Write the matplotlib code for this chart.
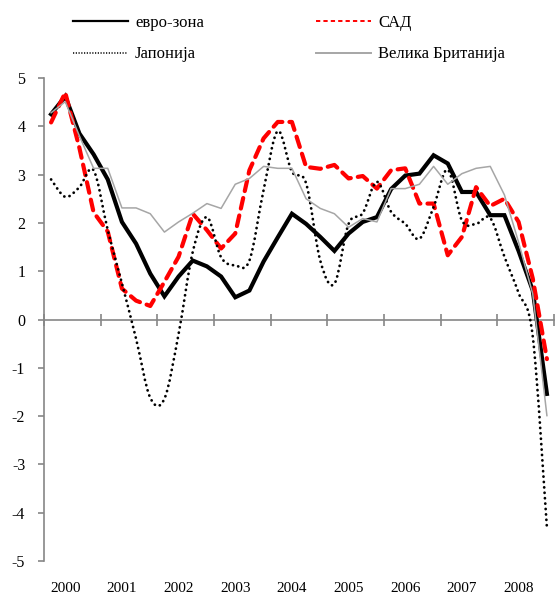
import numpy as np
import matplotlib
matplotlib.use("Agg")
import matplotlib.pyplot as plt
from matplotlib.path import Path
from matplotlib.patches import PathPatch
from matplotlib.lines import Line2D
import matplotlib.transforms as mtransforms

plt.rcParams['font.family'] = ['Liberation Serif', 'DejaVu Serif']
plt.rcParams['axes.unicode_minus'] = False

# quarterly growth, 2000 Q1 .. 2008 Q4
years = ['2000', '2001', '2002', '2003', '2004', '2005', '2006', '2007', '2008']

euro = [4.25, 4.62, 3.85, 3.42,
        2.90, 2.02, 1.57, 0.95,
        0.48, 0.89, 1.22, 1.10,
        0.89, 0.46, 0.60, 1.20,
        1.70, 2.19, 1.98, 1.71,
        1.42, 1.78, 2.02, 2.12,
        2.70, 2.98, 3.02, 3.40,
        3.23, 2.64, 2.64, 2.16,
        2.16, 1.42, 0.60, -1.54]

usa = [4.08, 4.70, 3.55, 2.22,
       1.82, 0.64, 0.39, 0.28,
       0.78, 1.30, 2.19, 1.85,
       1.47, 1.78, 3.09, 3.75,
       4.09, 4.09, 3.16, 3.12,
       3.20, 2.92, 2.97, 2.71,
       3.09, 3.13, 2.40, 2.40,
       1.33, 1.71, 2.74, 2.35,
       2.50, 2.02, 0.85, -0.82]

japan = [2.90, 2.54, 2.74, 3.09,
         1.85, 0.75, -0.40, -1.62,
         -1.64, -0.30, 1.40, 2.12,
         1.29, 1.12, 1.22, 2.68,
         3.90, 3.06, 2.82, 1.22,
         0.74, 1.98, 2.20, 2.85,
         2.23, 1.98, 1.67, 2.33,
         3.10, 2.05, 1.98, 2.10,
         1.30, 0.55, -0.35, -4.31]

uk = [4.28, 4.51, 3.80, 3.13,
      3.13, 2.31, 2.31, 2.19,
      1.81, 2.02, 2.20, 2.40,
      2.30, 2.80, 2.92, 3.17,
      3.13, 3.13, 2.50, 2.30,
      2.19, 1.91, 2.09, 2.02,
      2.71, 2.71, 2.80, 3.17,
      2.80, 3.02, 3.13, 3.17,
      2.58, 1.60, 0.53, -1.99]

labels = ['евро-зона', 'САД', 'Јапонија', 'Велика Британија']


def smooth_path(x, y):
    # cubic bezier through every point, catmull-rom style tangents
    pts = np.column_stack([x, y])
    ext = np.vstack([pts[0], pts, pts[-1]])
    verts = [pts[0]]
    codes = [Path.MOVETO]
    for i in range(len(pts) - 1):
        p0, p1, p2, p3 = ext[i], ext[i + 1], ext[i + 2], ext[i + 3]
        verts += [p1 + (p2 - p0) / 6.0, p2 - (p3 - p1) / 6.0, p2]
        codes += [Path.CURVE4] * 3
    return Path(verts, codes)


W, H = 555, 599
fig = plt.figure(figsize=(W / 100, H / 100), dpi=100)
ax = fig.add_axes([44 / W, 1 - 561 / H, 510 / W, 483 / H])

n = len(euro)
x = np.arange(n) + 0.5
grey_axis = '#868686'

ax.plot(x, euro, color='black', lw=3.0, solid_joinstyle='miter', zorder=3)
ax.plot(x, usa, color='#ff0000', lw=3.0, ls=(0, (2.6, 1.7)),
        dash_capstyle='round', zorder=4)
ax.add_patch(PathPatch(smooth_path(x, japan), fill=False, ec='black', lw=2.0,
                       ls=(0, (0.05, 1.9)), capstyle='round', zorder=5))
ax.plot(x, uk, color='#a6a6a6', lw=1.1, zorder=6)

ax.set_xlim(0, n)
ax.set_ylim(-5, 5)
ax.set_yticks(range(-5, 6))
ax.set_xticks(range(0, n + 1, 4))
ax.set_xticklabels([])

for s in ['top', 'right']:
    ax.spines[s].set_visible(False)
ax.spines['bottom'].set_position(('data', 0))
for s in ['left', 'bottom']:
    ax.spines[s].set_color(grey_axis)
    ax.spines[s].set_linewidth(1.2)
    ax.spines[s].set_zorder(1)

ax.tick_params(axis='y', direction='out', length=4.5, width=1.2,
               color=grey_axis, labelsize=11.5, pad=9)
ax.tick_params(axis='x', direction='inout', length=9, width=1.2,
               color=grey_axis)

# year labels under the plot
trans = mtransforms.blended_transform_factory(ax.transData, ax.transAxes)
for i, yr in enumerate(years):
    ax.annotate(yr, xy=(4 * i + 2 - 0.5, 0), xycoords=trans,
                xytext=(0, -15), textcoords='offset points',
                ha='center', va='top', fontsize=11)

h_euro = Line2D([], [], color='black', lw=1.6)
h_usa = Line2D([], [], color='#ff0000', lw=1.4, ls=(0, (2.2, 1.6)))
h_jap = Line2D([], [], color='black', lw=1.1, ls=(0, (0.8, 1.0)))
h_uk = Line2D([], [], color='#a6a6a6', lw=1.4)

leg_kw = dict(loc='upper left', frameon=False, borderpad=0, borderaxespad=0,
              handlelength=3.3, handletextpad=0.42, labelspacing=0.92,
              fontsize=12)
fig.legend([h_euro, h_jap], [labels[0], labels[2]],
           bbox_to_anchor=(73 / W, 1 - 15 / H), **leg_kw)
fig.legend([h_usa, h_uk], [labels[1], labels[3]],
           bbox_to_anchor=(316 / W, 1 - 15 / H), **leg_kw)

fig.savefig('out.png', dpi=100)
